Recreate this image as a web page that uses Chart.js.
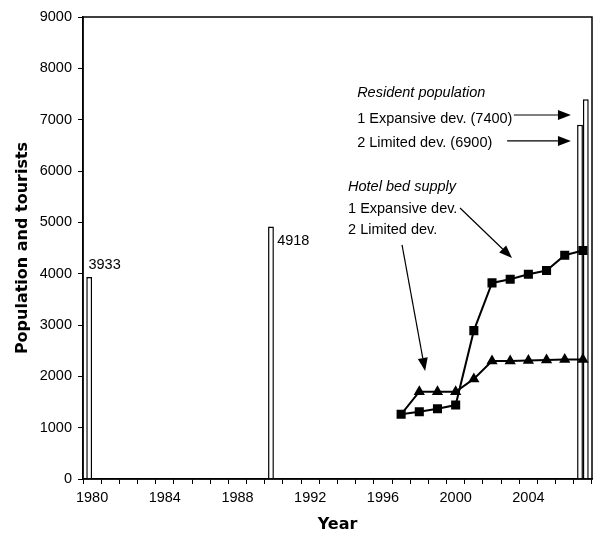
<!DOCTYPE html>
<html>
<head>
<meta charset="utf-8">
<script src="https://cdn.jsdelivr.net/npm/chart.js@4.4.1/dist/chart.umd.min.js"></script>
<style>
  html, body { margin: 0; padding: 0; background: #fff; }
  #wrap { width: 596px; height: 534px; }
</style>
</head>
<body>
<div id="wrap"><canvas id="myChart"></canvas></div>
<script>
// categories: one slot per year
var years = ['1980','1981','1982','1983','1984','1985','1986','1987','1988','1989',
             '1990','1991','1992','1993','1994','1995','1996','1997','1998','1999',
             '2000','2001','2002','2003','2004','2005','2006','2007'];

// resident population bars
var popYears = ['1980', '1990', '2007'];
var popValues = [3933, 4918, 6900];          // census + limited dev.
var popExpYears = ['2007'];
var popExpValues = [7400];                   // expansive dev.

// hotel bed supply lines
var hotelYears = ['1997','1998','1999','2000','2001','2002','2003','2004','2005','2006','2007'];
var bedsExpansive = [1260, 1310, 1370, 1440, 2890, 3820, 3890, 3990, 4060, 4360, 4450];
var bedsLimited   = [1260, 1700, 1700, 1700, 1950, 2300, 2300, 2310, 2320, 2330, 2330];

function pairs(xs, ys) {
  return xs.map(function (x, i) { return {x: x, y: ys[i]}; });
}

var FONT = '"Liberation Sans", Arial, sans-serif';
var BOLD = '"DejaVu Sans", Verdana, sans-serif';

// notes: [x as category index, y as value]
var notes = [
  {text: 'Resident population', x: 14.58, y: 7520, italic: true},
  {text: '1 Expansive dev. (7400)', x: 14.58, y: 7013},
  {text: '2 Limited dev. (6900)', x: 14.58, y: 6546},
  {text: 'Hotel bed supply', x: 14.08, y: 5689, italic: true},
  {text: '1 Expansive dev.', x: 14.08, y: 5260},
  {text: '2 Limited dev.', x: 14.08, y: 4851},
  {text: '3933', x: -0.2, y: 4170},
  {text: '4918', x: 10.18, y: 4637}
];
var arrows = [
  [23.2, 7091, 26.34, 7091],
  [22.83, 6585, 26.34, 6585],
  [20.24, 5280, 23.10, 4305],
  [17.05, 4559, 18.32, 2104]
];

var notesPlugin = {
  id: 'notes',
  afterDraw: function (chart) {
    var c = chart.ctx, xs = chart.scales.x, ys = chart.scales.y, a = chart.chartArea;
    c.save();
    // box round the plot
    c.strokeStyle = '#000';
    c.lineWidth = 1.5;
    c.strokeRect(a.left, a.top, a.right - a.left, a.bottom - a.top);

    c.fillStyle = '#000';
    c.textBaseline = 'middle';
    c.textAlign = 'left';
    notes.forEach(function (n) {
      c.font = (n.italic ? 'italic ' : '') + '14.5px ' + FONT;
      c.fillText(n.text, xs.getPixelForValue(n.x), ys.getPixelForValue(n.y));
    });

    c.lineWidth = 1.2;
    arrows.forEach(function (ar) {
      var x1 = xs.getPixelForValue(ar[0]), y1 = ys.getPixelForValue(ar[1]);
      var x2 = xs.getPixelForValue(ar[2]), y2 = ys.getPixelForValue(ar[3]);
      var ang = Math.atan2(y2 - y1, x2 - x1);
      var L = 13, W = 5;
      var bx = x2 - L * Math.cos(ang), by = y2 - L * Math.sin(ang);
      c.beginPath();
      c.moveTo(x1, y1);
      c.lineTo(bx, by);
      c.stroke();
      c.beginPath();
      c.moveTo(x2, y2);
      c.lineTo(bx + W * Math.sin(ang), by - W * Math.cos(ang));
      c.lineTo(bx - W * Math.sin(ang), by + W * Math.cos(ang));
      c.closePath();
      c.fill();
    });
    c.restore();
  }
};

var ctx = document.getElementById('myChart').getContext('2d');
var myChart = new Chart(ctx, {
  type: 'bar',
  data: {
    labels: years,
    datasets: [{
        type: 'line',
        label: 'Hotel beds, limited dev.',
        data: pairs(hotelYears, bedsLimited),
        borderColor: '#000',
        backgroundColor: '#000',
        borderWidth: 2,
        pointStyle: 'triangle',
        pointRadius: [0, 4.5, 4.5, 4.5, 4.5, 4.5, 4.5, 4.5, 4.5, 4.5, 4.5],
        tension: 0,
        order: 1
      }, {
        type: 'line',
        label: 'Hotel beds, expansive dev.',
        data: pairs(hotelYears, bedsExpansive),
        borderColor: '#000',
        backgroundColor: '#000',
        borderWidth: 2,
        pointStyle: 'rect',
        pointRadius: 5,
        tension: 0,
        order: 0
      }, {
        label: 'Resident population',
        data: pairs(popYears, popValues),
        backgroundColor: '#fff',
        borderColor: '#000',
        borderWidth: 1.5,
        order: 2
      }, {
        label: 'Resident population, expansive dev.',
        data: pairs(popExpYears, popExpValues),
        backgroundColor: '#fff',
        borderColor: '#000',
        borderWidth: 1.5,
        order: 2
      }
    ]
  },
  options: {
    responsive: true,
    maintainAspectRatio: false,
    animation: false,
    datasets: {
      bar: { categoryPercentage: 0.64, barPercentage: 1.0 }
    },
    layout: { autoPadding: false, padding: { top: 17, right: 4, left: 0, bottom: 0 } },
    plugins: {
      legend: { display: false },
      tooltip: { enabled: false }
    },
    scales: {
      x: {
        type: 'category',
        offset: true,
        afterFit: function (s) { s.height = 55; s.paddingLeft = 0; s.paddingRight = 0; },
        grid: { offset: true, drawOnChartArea: false, color: '#000', tickLength: 5 },
        border: { color: '#000', width: 1.5 },
        ticks: {
          autoSkip: false,
          maxRotation: 0,
          padding: 5,
          color: '#000',
          font: { family: FONT, size: 14.5 },
          callback: function (v, i) { return i % 4 === 0 ? this.getLabelForValue(v) : ''; }
        },
        title: {
          display: true,
          text: 'Year',
          color: '#000',
          font: { family: BOLD, size: 16, weight: 'bold' },
          padding: { top: 0, bottom: 0 }
        }
      },
      y: {
        min: 0,
        max: 9000,
        afterFit: function (s) { s.width = 83; },
        grid: { drawOnChartArea: false, color: '#000', tickLength: 5 },
        border: { color: '#000', width: 1.5 },
        ticks: {
          stepSize: 1000,
          padding: 6,
          color: '#000',
          font: { family: FONT, size: 14.5 },
          callback: function (v) { return String(v); }
        },
        title: {
          display: true,
          text: 'Population and tourists',
          color: '#000',
          font: { family: BOLD, size: 16, weight: 'bold' },
          padding: { top: 13, bottom: 0 }
        }
      }
    }
  },
  plugins: [notesPlugin]
});
</script>
</body>
</html>
